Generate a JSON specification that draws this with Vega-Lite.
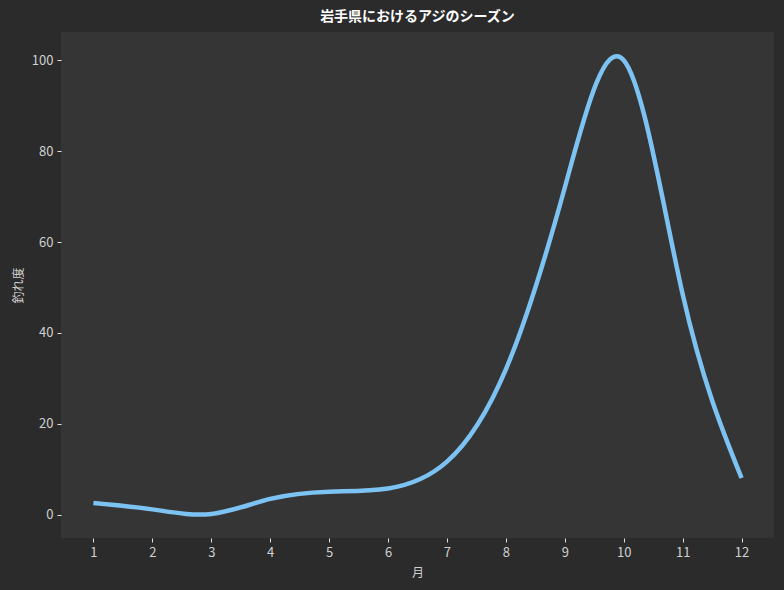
{
  "$schema": "https://vega.github.io/schema/vega-lite/v6.json",
  "width": 713,
  "height": 506,
  "autosize": "none",
  "padding": {"left": 61, "top": 32, "right": 10, "bottom": 52},
  "background": "#2b2b2b",
  "title": {
    "text": "岩手県におけるアジのシーズン",
    "font": "Noto Sans CJK JP",
    "fontSize": 14,
    "fontWeight": "bold",
    "color": "#ffffff",
    "anchor": "middle",
    "frame": "group",
    "offset": 8
  },
  "config": {
    "view": {"fill": "#353535", "stroke": null},
    "axis": {
      "labelFont": "Noto Sans CJK JP",
      "titleFont": "Noto Sans CJK JP",
      "labelColor": "#d0d0d0",
      "titleColor": "#d0d0d0",
      "labelFontSize": 13,
      "titleFontSize": 12,
      "titleFontWeight": "normal",
      "tickColor": "#e0e0e0",
      "tickSize": 4,
      "domain": false,
      "grid": false
    }
  },
  "data": {
    "values": [
      {"month": 1, "score": 2.6},
      {"month": 2, "score": 1.2},
      {"month": 3, "score": 0.2},
      {"month": 4, "score": 3.5},
      {"month": 5, "score": 5.1},
      {"month": 6, "score": 5.8},
      {"month": 7, "score": 11.7},
      {"month": 8, "score": 32},
      {"month": 9, "score": 72},
      {"month": 10, "score": 100},
      {"month": 11, "score": 48.5},
      {"month": 12, "score": 8.1}
    ]
  },
  "mark": {"type": "line", "interpolate": "natural", "color": "#7cc3f3", "strokeWidth": 4.5, "clip": true},
  "encoding": {
    "x": {
      "field": "month",
      "type": "quantitative",
      "title": "月",
      "scale": {"domain": [0.45, 12.55], "nice": false, "zero": false},
      "axis": {"values": [1,2,3,4,5,6,7,8,9,10,11,12], "labelPadding": 4, "titlePadding": 8}
    },
    "y": {
      "field": "score",
      "type": "quantitative",
      "title": "釣れ度",
      "scale": {"domain": [-5.1, 106.2], "nice": false, "zero": false},
      "axis": {"values": [0, 20, 40, 60, 80, 100], "labelPadding": 4, "titlePadding": 6}
    }
  }
}
